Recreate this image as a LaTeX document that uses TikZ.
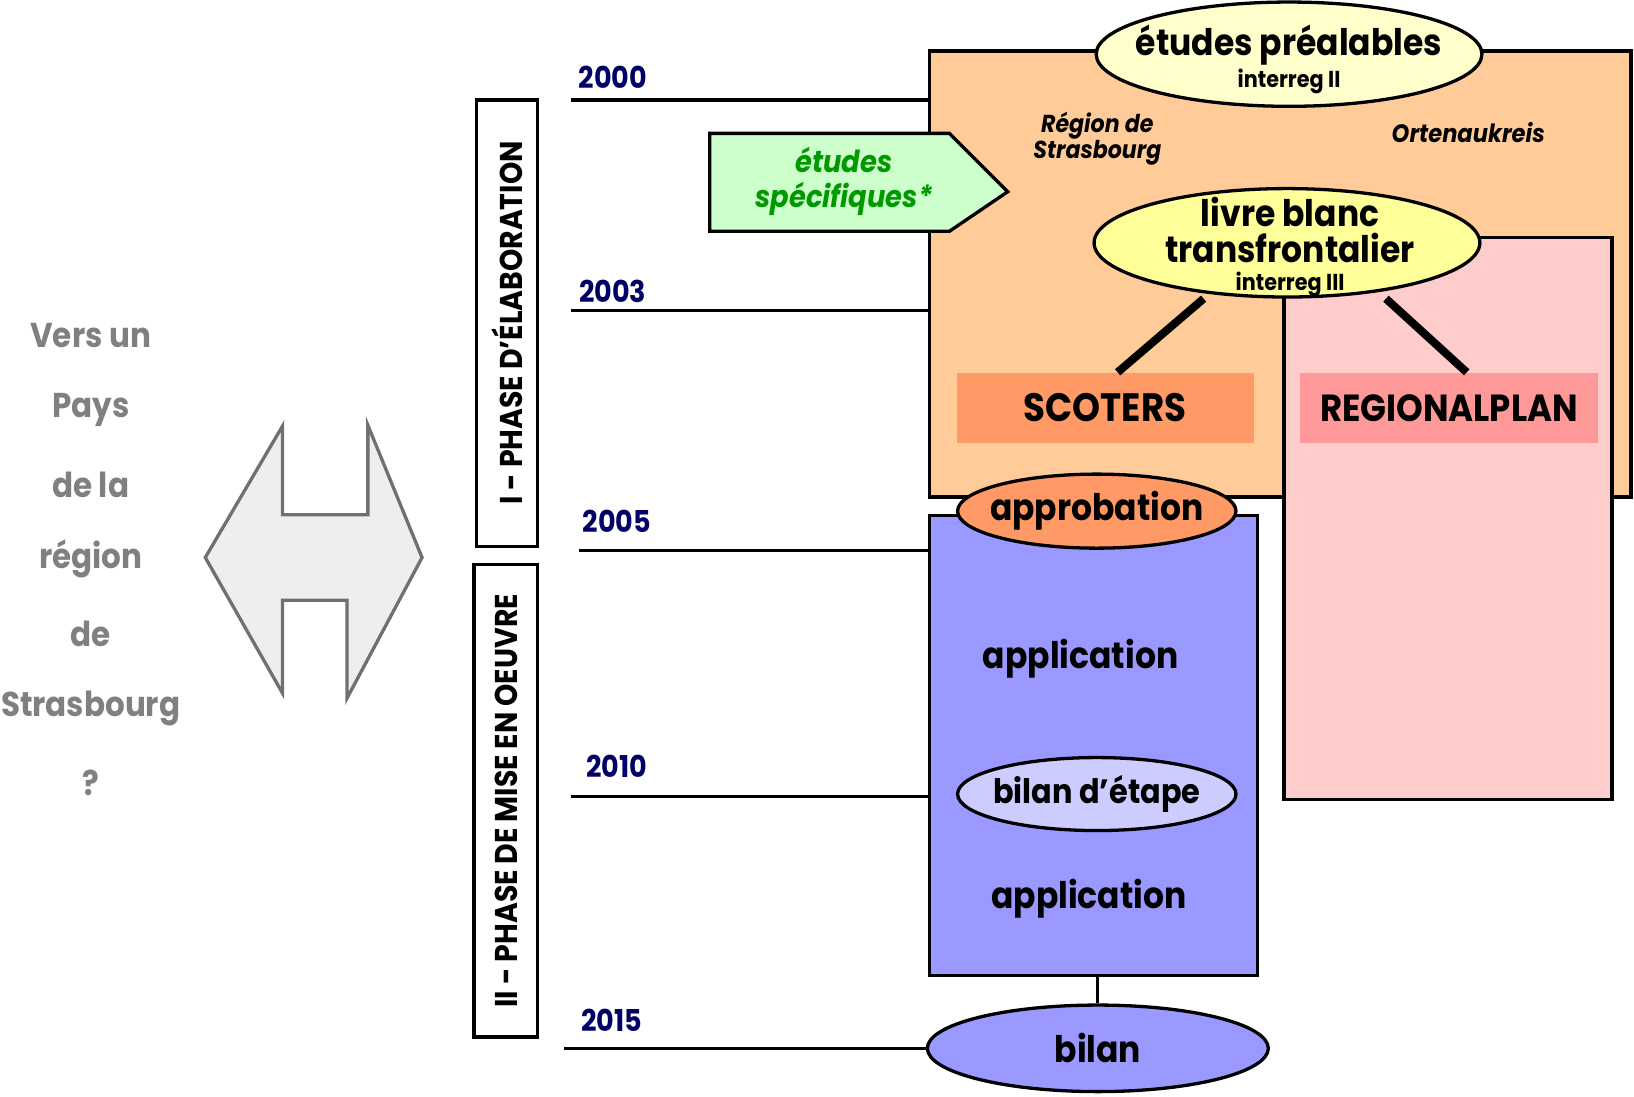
\documentclass[tikz,border=0pt]{standalone}
\usepackage{fontspec}
\setmainfont{Poppins}[FakeStretch=0.9]
\usetikzlibrary{shapes.geometric,fit,calc}

\definecolor{peche}{HTML}{FFCC99}
\definecolor{rose}{HTML}{FFCCCC}
\definecolor{bleu}{HTML}{9999FF}
\definecolor{saumon}{HTML}{FF9966}
\definecolor{vieuxrose}{HTML}{FF9999}
\definecolor{jaunepale}{HTML}{FFFFCC}
\definecolor{jaune}{HTML}{FFFF99}
\definecolor{lavande}{HTML}{CCCCFF}
\definecolor{vertpale}{HTML}{CCFFCC}
\definecolor{vert}{HTML}{009900}
\definecolor{marine}{HTML}{000066}
\definecolor{gristexte}{HTML}{808080}
\definecolor{grisfleche}{HTML}{707070}
\definecolor{grisfond}{HTML}{EEEEEE}

\begin{document}
\begin{tikzpicture}[x=0.01cm,y=-0.01cm,
	cadre/.style={draw,line width=0.9pt,inner sep=0pt},
	bulle/.style={ellipse,draw,line width=0.9pt,inner sep=0pt},
	gros/.style={font=\fontsize{10}{10}\selectfont\bfseries},
	petit/.style={font=\fontsize{6.3}{7}\selectfont\bfseries},
	annee/.style={font=\fontsize{8.2}{9}\selectfont\bfseries,text=marine},
	gris/.style={font=\fontsize{9.4}{11}\selectfont\bfseries,text=gristexte},
	phase/.style={draw,line width=0.9pt,rotate=90,font=\fontsize{8.6}{9}\selectfont\bfseries},
	lien/.style={line width=2.2pt}]
	\useasboundingbox (0,0) rectangle (1568,1052);
	% colonne de gauche
	\foreach \t [count=\i] in {Vers un,Pays,de la,région,de,Strasbourg,?}
		\node[gris] (pays\i) at (87,250.5+71.5*\i) {\t};
	\draw[line width=0.9pt,draw=grisfleche,fill=grisfond] (197,535) -- (271,409) -- (271,494) -- (353,494) -- (353,408) -- (405,535) -- (333,670) -- (333,576) -- (271,576) -- (271,665) -- cycle;
	% phases
	\node[phase,minimum width=4.28cm,minimum height=0.59cm] (phase1) at (486.5,310) {I - PHASE D’ÉLABORATION};
	\node[phase,minimum width=4.53cm,minimum height=0.61cm] (phase2) at (485.5,768.5) {II - PHASE DE MISE EN OEUVRE};
	% cadres
	\node[cadre,fill=peche,fit={(892,49) (1565,477)}] (orange) {};
	\node[cadre,fill=rose,fit={(1232,228) (1547,767)}] (rosebox) {};
	\node[cadre,fill=bleu,fit={(892,495) (1207,936)}] (bleubox) {};
	\draw[line width=0.9pt,fill=vertpale] (681,128) -- (911,128) -- (967,184) -- (911,222) -- (681,222) -- cycle;
	\node[font=\fontsize{8.3}{9.7}\selectfont\bfseries\itshape,text=vert,align=center] (specifiques) at (810,174) {études\\spécifiques*};
	\node[font=\fontsize{6.7}{7.2}\selectfont\bfseries\itshape,align=center] (strasbourg) at (1053,133) {Région de\\Strasbourg};
	\node[font=\fontsize{6.85}{8}\selectfont\bfseries\itshape] (ortenau) at (1409,127) {Ortenaukreis};
	\node[font=\fontsize{10.8}{12}\selectfont\bfseries,fill=saumon,minimum width=2.85cm,minimum height=0.67cm] (scoters) at (1060.5,391.5) {SCOTERS};
	\node[font=\fontsize{10.3}{12}\selectfont\bfseries,fill=vieuxrose,minimum width=2.85cm,minimum height=0.67cm] (regional) at (1390.5,391.5) {REGIONALPLAN};
	% bulles
	\node[bulle,fill=jaunepale,minimum width=3.7cm,minimum height=1cm] (prealables) at (1237,52) {};
	\node[gros,align=center] (prealablestxt) at (1237,57) {études préalables\\[-1.5pt]{\fontsize{6.3}{7}\selectfont interreg II}};
	\node[bulle,fill=jaune,minimum width=3.7cm,minimum height=1.04cm] (livre) at (1235,233) {};
	\node[gros,align=center] (livretxt) at (1238,237) {livre blanc\\transfrontalier\\[-2.3pt]{\fontsize{6.3}{7}\selectfont interreg III}};
	\draw[lien] ($(livre.south)+(-80,0)$) -- ($(scoters.north)+(12,0)$);
	\draw[lien] ($(livre.south)+(95,0)$) -- ($(regional.north)+(17,0)$);
	\node[bulle,fill=saumon,minimum width=2.67cm,minimum height=0.71cm,label={[gros,name=approbationtxt]center:approbation}] (approbation) at (1052.5,490.5) {};
	\node[gros] (application1) at (1037,632) {application};
	\node[bulle,fill=lavande,minimum width=2.67cm,minimum height=0.70cm,label={[font=\fontsize{9.2}{10}\selectfont\bfseries,name=etapetxt]center:bilan d’étape}] (etape) at (1052.5,762) {};
	\node[gros] (application2) at (1045,862) {application};
	\node[bulle,fill=bleu,minimum width=3.27cm,minimum height=0.83cm,label={[gros,name=bilantxt]center:bilan}] (bilan) at (1053.5,1006) {};
	\draw[line width=0.9pt] (bilan.north |- bleubox.south) -- (bilan.north);
	% annees
	\foreach \a/\x/\y/\d/\l in {2000/588/74/548/96,2003/588/280/548/298,2005/592/500/556/528,2010/592/735/548/764} {
		\node[annee] (an\a) at (\x,\y) {\a};
		\coordinate (debut\a) at (\d,\l);
		\draw[line width=0.9pt] (debut\a) -- (debut\a -| orange.west);
	}
	\node[annee] (an2015) at (587,979) {2015};
	\coordinate (debut2015) at (541,1006);
	\draw[line width=0.9pt] (debut2015) -- (bilan.west);
\end{tikzpicture}
\end{document}
